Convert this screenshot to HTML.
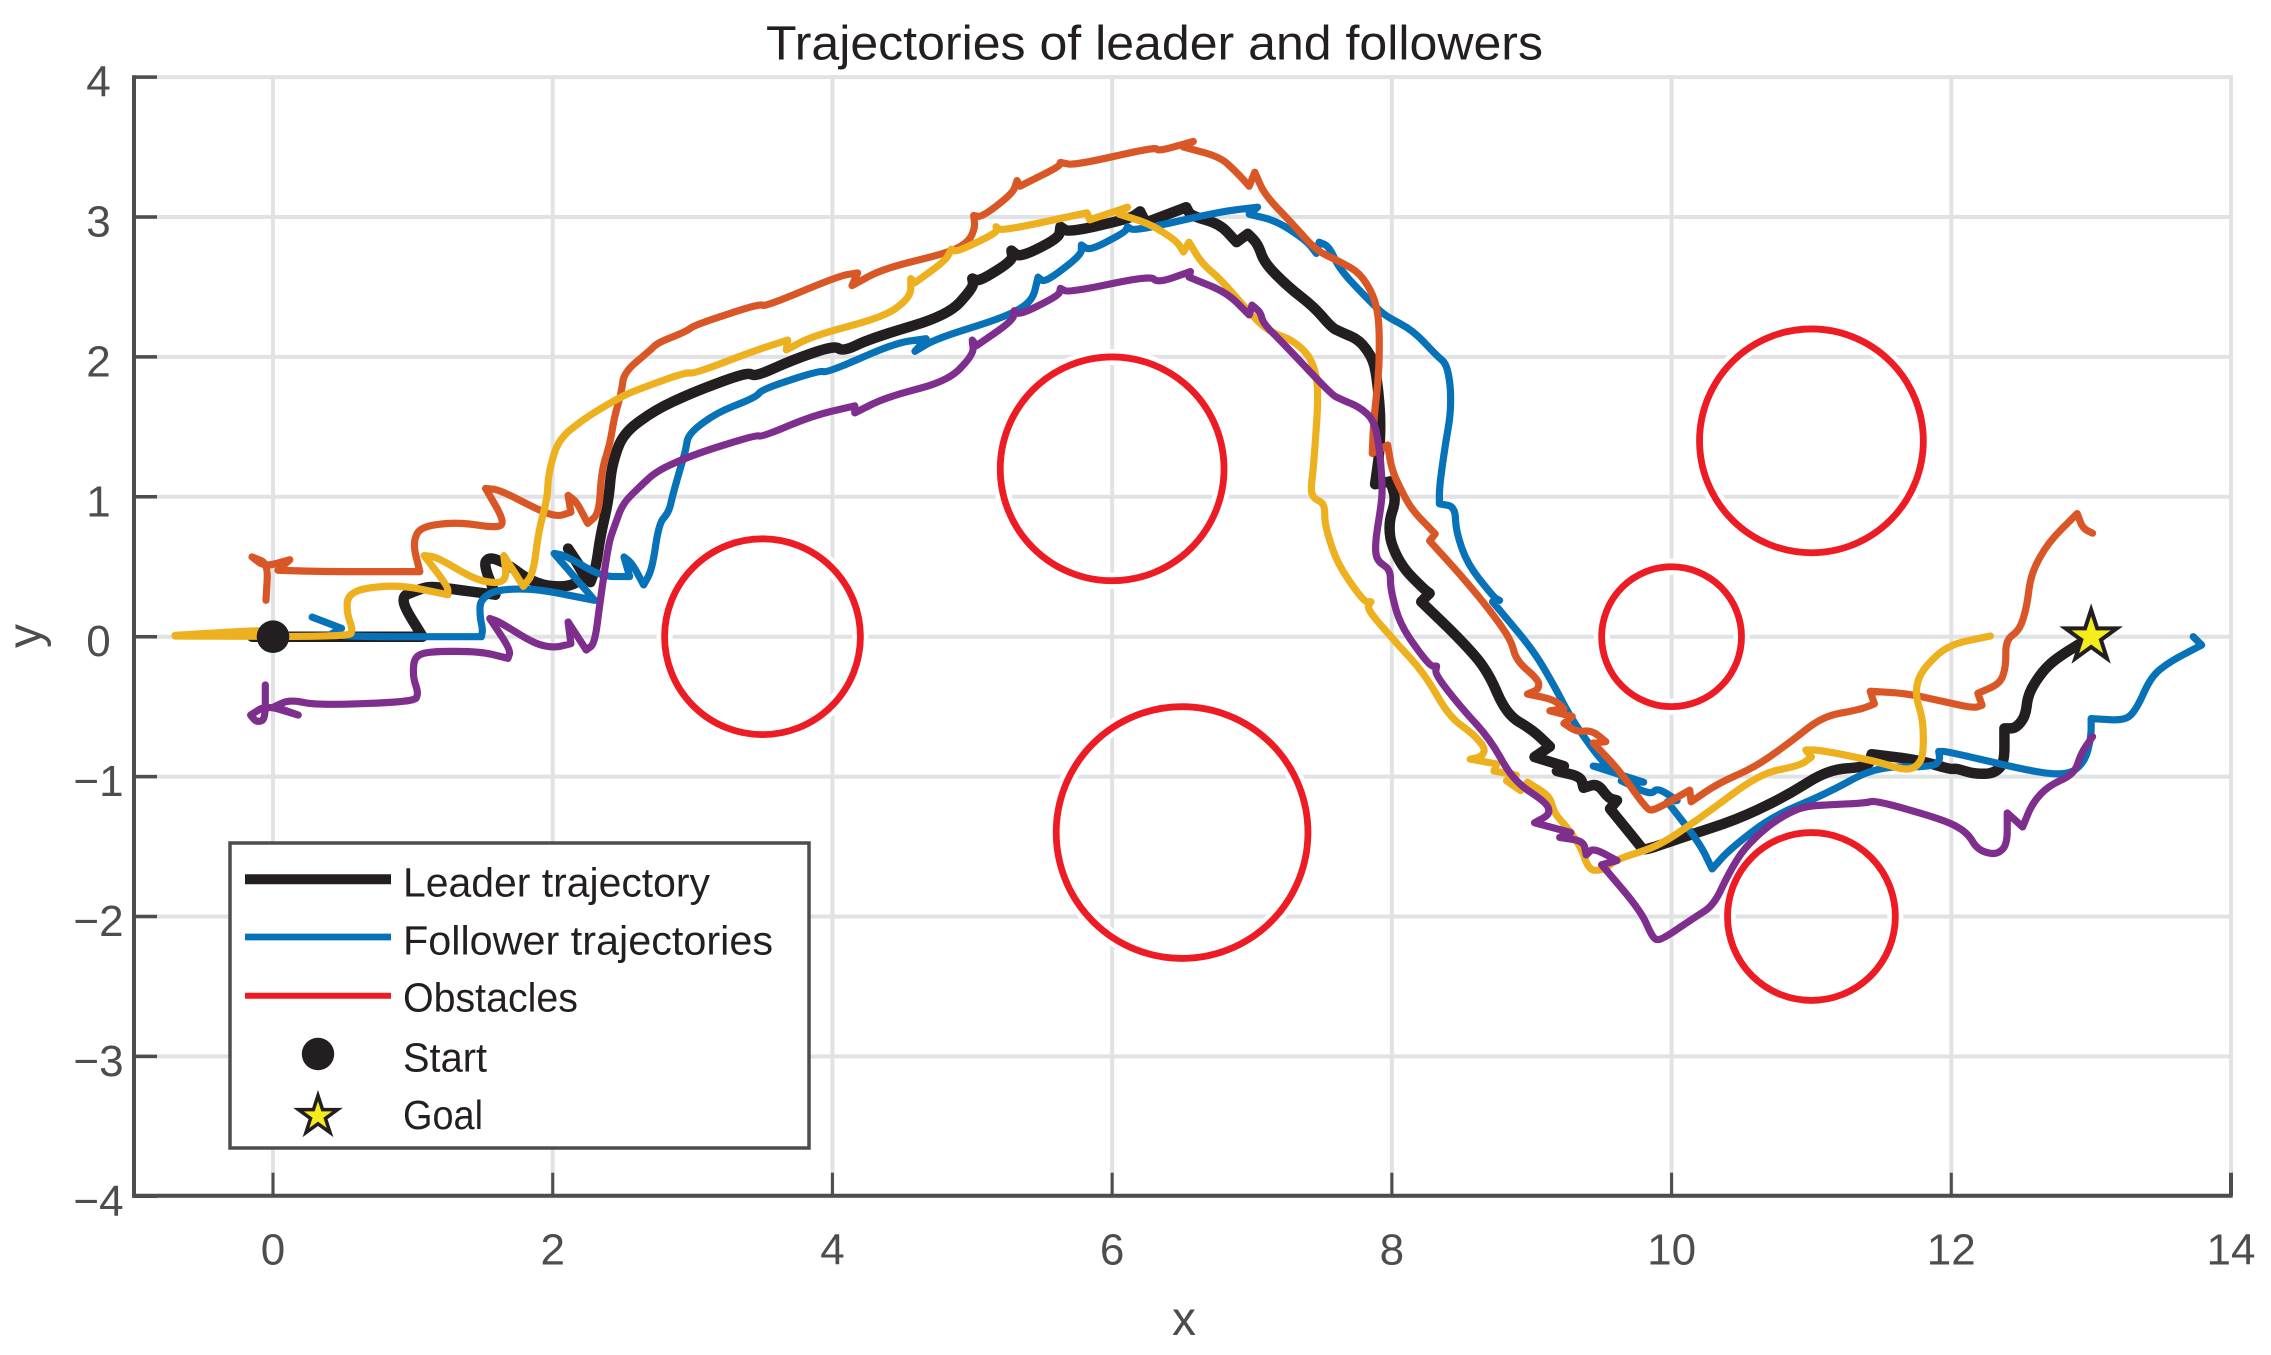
<!DOCTYPE html>
<html lang="en">
<head>
<meta charset="utf-8">
<title>Trajectories of leader and followers</title>
<style>
html,body{margin:0;padding:0;background:#fff;}
svg{display:block;font-family:"Liberation Sans",sans-serif;}
</style>
</head>
<body>
<svg id="chart" width="2271" height="1355" viewBox="0 0 2271 1355" xmlns="http://www.w3.org/2000/svg">
  <rect x="0" y="0" width="2271" height="1355" fill="#ffffff"/>
  <g id="grid"></g>
  <g id="halos"></g>
  <g id="series"></g>
  <g id="obstacles"></g>
  <g id="markers"></g>
  <g id="axes"></g>
  <text x="766" y="59.5" font-size="48" fill="#231f20" textLength="777" lengthAdjust="spacingAndGlyphs">Trajectories of leader and followers</text>
  <text x="1184" y="1335" font-size="48" fill="#4d4d4f" text-anchor="middle">x</text>
  <text transform="translate(41,636) rotate(-90)" font-size="48" fill="#4d4d4f" text-anchor="middle">y</text>
  <g>
    <rect x="230" y="843" width="579" height="305" fill="#ffffff" stroke="#4d4d4f" stroke-width="3.5"/>
    <line x1="245" y1="879.3" x2="391" y2="879.3" stroke="#231f20" stroke-width="10"/>
    <line x1="245" y1="937" x2="391" y2="937" stroke="#0772b8" stroke-width="6.7"/>
    <line x1="245" y1="995.7" x2="391" y2="995.7" stroke="#ed1c24" stroke-width="6"/>
    <circle cx="318" cy="1054" r="16.2" fill="#231f20"/>
    <polygon id="legendStar" fill="#f4ec1b" stroke="#231f20" stroke-width="3.5" stroke-miterlimit="10"/>
    <text x="403" y="896.7" font-size="41" fill="#231f20" textLength="307" lengthAdjust="spacingAndGlyphs">Leader trajectory</text>
    <text x="403" y="954.3" font-size="41" fill="#231f20" textLength="370" lengthAdjust="spacingAndGlyphs">Follower trajectories</text>
    <text x="403" y="1011.7" font-size="41" fill="#231f20" textLength="175" lengthAdjust="spacingAndGlyphs">Obstacles</text>
    <text x="403" y="1071.7" font-size="41" fill="#231f20" textLength="84" lengthAdjust="spacingAndGlyphs">Start</text>
    <text x="403" y="1129" font-size="41" fill="#231f20" textLength="80" lengthAdjust="spacingAndGlyphs">Goal</text>
  </g>
</svg>
<script>
var xTicks = [0, 2, 4, 6, 8, 10, 12, 14];
var yTicks = [4, 3, 2, 1, 0, -1, -2, -3, -4];

var obstacleX = [3.5, 6, 6.5, 10, 11, 11];
var obstacleY = [0, 1.2, -1.4, 0, 1.4, -2];
var obstacleR = [0.7, 0.8, 0.9, 0.5, 0.8, 0.6];

var startPoint = [0, 0];
var goalPoint = [13, 0];

var leaderPath = [[-0.15,0],[1.07,0],[0.94,0.21],[0.93,0.29],[1,0.32],[1.11,0.36],[1.25,0.345],[1.59,0.3],[1.505,0.52],[1.55,0.57],[1.675,0.52],[1.815,0.415],[1.96,0.36],[2.13,0.36],[2.23,0.43],[2.11,0.63],[2.27,0.39],[2.31,0.5],[2.34,0.715],[2.4,0.98],[2.42,1.215],[2.5,1.45],[2.73,1.62],[3.01,1.75],[3.39,1.89],[3.45,1.86],[3.72,1.98],[4.01,2.08],[4.08,2.04],[4.27,2.13],[4.83,2.3],[5.01,2.5],[5,2.56],[5.05,2.54],[5.29,2.69],[5.28,2.76],[5.34,2.71],[5.62,2.85],[5.63,2.93],[5.69,2.89],[6.13,2.99],[6.2,3.04],[6.24,2.96],[6.53,3.07],[6.56,3.01],[6.77,2.95],[6.89,2.82],[6.97,2.88],[7.04,2.81],[7.09,2.67],[7.26,2.5],[7.44,2.36],[7.57,2.21],[7.63,2.18],[7.77,2.12],[7.87,1.98],[7.9,1.79],[7.92,1.55],[7.91,1.3],[7.88,1.09],[7.99,1.11],[8.03,0.98],[7.98,0.825],[7.99,0.67],[8.08,0.49],[8.23,0.34],[8.27,0.31],[8.21,0.25],[8.49,-0.02],[8.68,-0.235],[8.82,-0.555],[9.01,-0.67],[9.13,-0.785],[9.02,-0.86],[9.23,-0.925],[9.18,-0.96],[9.35,-1],[9.37,-1.08],[9.47,-1.05],[9.55,-1.155],[9.61,-1.17],[9.56,-1.23],[9.78,-1.5],[9.8,-1.53],[10.06,-1.44],[10.46,-1.31],[10.81,-1.145],[11.12,-0.95],[11.41,-0.93],[11.43,-0.84],[11.76,-0.88],[12,-0.95],[12.03,-0.94],[12.16,-0.98],[12.3,-0.98],[12.38,-0.905],[12.38,-0.655],[12.46,-0.655],[12.53,-0.57],[12.55,-0.405],[12.65,-0.25],[12.75,-0.155],[13,0]];

var followerBlue = [[0.28,0.14],[0.49,0.06],[0.42,0.02],[0.56,0],[1.49,0],[1.5,0.05],[1.48,0.14],[1.48,0.26],[1.59,0.335],[1.87,0.345],[2.3,0.26],[2.01,0.595],[2.09,0.58],[2.35,0.43],[2.55,0.43],[2.51,0.57],[2.57,0.52],[2.65,0.37],[2.71,0.48],[2.76,0.81],[2.83,0.89],[2.86,1.02],[2.92,1.23],[2.95,1.33],[2.97,1.45],[3.17,1.6],[3.45,1.71],[3.5,1.77],[3.9,1.9],[3.97,1.89],[4.45,2.1],[4.67,2.13],[4.59,2.04],[4.74,2.13],[5.25,2.29],[5.43,2.4],[5.47,2.57],[5.52,2.53],[5.78,2.73],[5.78,2.8],[5.84,2.76],[6.09,2.89],[6.11,2.93],[6.16,2.9],[6.78,3.04],[7.04,3.07],[6.98,3.02],[7.18,2.97],[7.39,2.83],[7.46,2.74],[7.48,2.82],[7.55,2.79],[7.63,2.62],[7.87,2.37],[7.96,2.29],[8.15,2.19],[8.32,2.01],[8.39,1.95],[8.42,1.79],[8.42,1.59],[8.38,1.36],[8.34,1.07],[8.34,0.95],[8.45,0.93],[8.46,0.75],[8.54,0.52],[8.73,0.28],[8.77,0.26],[8.72,0.25],[9.01,-0.095],[9.16,-0.35],[9.28,-0.58],[9.44,-0.81],[9.55,-0.94],[9.44,-0.925],[9.8,-1.04],[9.64,-1.03],[9.85,-1.13],[9.9,-1.08],[10.04,-1.17],[9.97,-1.18],[10.2,-1.475],[10.29,-1.66],[10.41,-1.525],[10.71,-1.29],[11.11,-1.12],[11.46,-0.93],[11.87,-0.93],[11.92,-0.88],[11.91,-0.82],[11.97,-0.82],[12.65,-0.98],[12.86,-0.98],[12.96,-0.88],[13,-0.715],[13,-0.585],[13.24,-0.6],[13.32,-0.525],[13.43,-0.285],[13.56,-0.18],[13.79,-0.06],[13.73,0],[13.78,-0.05]];

var followerOrange = [[-0.05,0.26],[-0.035,0.525],[-0.15,0.57],[-0.06,0.5],[0.12,0.55],[0.035,0.475],[0.35,0.465],[1.05,0.465],[1,0.665],[1.05,0.785],[1.31,0.82],[1.62,0.775],[1.65,0.835],[1.52,1.06],[1.62,1.05],[1.93,0.89],[2.04,0.86],[2.13,0.89],[2.11,1.01],[2.17,0.965],[2.25,0.81],[2.33,0.88],[2.35,1.19],[2.41,1.38],[2.44,1.57],[2.49,1.74],[2.51,1.89],[2.7,2.05],[2.75,2.1],[2.95,2.18],[3.02,2.23],[3.48,2.38],[3.52,2.36],[4.05,2.58],[4.18,2.6],[4.14,2.51],[4.36,2.63],[4.85,2.75],[4.98,2.83],[5.02,2.93],[5.01,3.01],[5.07,3],[5.29,3.17],[5.32,3.26],[5.34,3.22],[5.62,3.36],[5.63,3.39],[5.73,3.37],[6.31,3.5],[6.33,3.47],[6.58,3.54],[6.51,3.5],[6.77,3.43],[6.89,3.32],[6.98,3.22],[7.02,3.32],[7.09,3.16],[7.29,2.95],[7.46,2.76],[7.63,2.68],[7.77,2.6],[7.87,2.44],[7.91,2.26],[7.91,1.9],[7.87,1.55],[7.86,1.31],[7.97,1.37],[8,1.19],[8.08,1.02],[8.15,0.9],[8.31,0.735],[8.27,0.685],[8.51,0.42],[8.7,0.19],[8.85,-0.02],[8.89,-0.17],[9.05,-0.31],[9.05,-0.375],[8.97,-0.41],[9.16,-0.45],[9.23,-0.515],[9.13,-0.53],[9.29,-0.57],[9.23,-0.62],[9.32,-0.68],[9.43,-0.67],[9.53,-0.75],[9.44,-0.76],[9.63,-0.96],[9.82,-1.23],[9.87,-1.245],[10.13,-1.097],[10.14,-1.18],[10.33,-1.05],[10.6,-0.93],[10.84,-0.76],[11.08,-0.57],[11.35,-0.52],[11.45,-0.48],[11.42,-0.39],[11.68,-0.405],[11.95,-0.465],[12.16,-0.51],[12.22,-0.49],[12.19,-0.405],[12.35,-0.335],[12.39,-0.215],[12.39,-0.025],[12.49,0.05],[12.54,0.215],[12.57,0.45],[12.69,0.67],[12.9,0.88],[12.94,0.775],[13.01,0.74]];

var followerYellow = [[-0.7,0.01],[-0.1,0.045],[0,0.04],[-0.1,0.005],[-0.7,0.005],[0.545,0],[0.57,0.05],[0.53,0.165],[0.53,0.285],[0.63,0.345],[0.91,0.37],[1.25,0.3],[1.25,0.36],[1.08,0.58],[1.17,0.57],[1.45,0.405],[1.62,0.38],[1.67,0.43],[1.65,0.58],[1.79,0.36],[1.86,0.45],[1.9,0.76],[1.96,0.98],[1.97,1.17],[2.04,1.41],[2.24,1.57],[2.48,1.71],[2.59,1.76],[2.95,1.89],[3.01,1.88],[3.46,2.05],[3.68,2.12],[3.67,2.05],[3.86,2.15],[4.38,2.29],[4.56,2.43],[4.56,2.56],[4.59,2.53],[4.81,2.69],[4.85,2.77],[4.89,2.75],[5.18,2.89],[5.17,2.93],[5.21,2.9],[5.82,3.03],[5.84,2.98],[6.11,3.07],[6.05,3.02],[6.27,2.95],[6.46,2.83],[6.51,2.75],[6.55,2.82],[6.64,2.67],[6.78,2.55],[7.04,2.25],[7.15,2.17],[7.29,2.12],[7.42,2],[7.48,1.79],[7.44,1.21],[7.42,1.05],[7.44,0.99],[7.52,0.95],[7.52,0.8],[7.61,0.52],[7.8,0.25],[7.85,0.25],[7.82,0.2],[8.01,-0.02],[8.23,-0.26],[8.41,-0.57],[8.58,-0.695],[8.67,-0.8],[8.64,-0.86],[8.56,-0.875],[8.75,-0.91],[8.73,-0.96],[8.89,-0.99],[8.82,-1.03],[8.92,-1.1],[8.97,-1.04],[9.13,-1.14],[9.16,-1.26],[9.25,-1.36],[9.35,-1.5],[9.41,-1.67],[9.51,-1.67],[9.61,-1.59],[9.9,-1.5],[10.2,-1.3],[10.63,-0.98],[10.92,-0.92],[11,-0.86],[10.96,-0.81],[11.06,-0.81],[11.46,-0.89],[11.65,-0.95],[11.74,-0.94],[11.8,-0.86],[11.8,-0.6],[11.74,-0.405],[11.78,-0.25],[11.97,-0.06],[12.28,0.005]];

var followerPurple = [[-0.055,-0.345],[-0.055,-0.595],[-0.12,-0.61],[-0.16,-0.56],[-0.05,-0.49],[0.18,-0.56],[0.01,-0.5],[0.12,-0.45],[0.32,-0.49],[1.01,-0.465],[1.04,-0.405],[1,-0.285],[1.01,-0.145],[1.11,-0.105],[1.48,-0.105],[1.68,-0.155],[1.7,-0.095],[1.55,0.13],[1.62,0.105],[1.87,-0.05],[2.01,-0.08],[2.13,-0.05],[2.11,0.105],[2.24,-0.095],[2.3,-0.05],[2.34,0.26],[2.4,0.67],[2.44,0.785],[2.5,0.95],[2.62,1.07],[2.75,1.19],[3.03,1.31],[3.45,1.44],[3.5,1.43],[3.86,1.58],[4.16,1.65],[4.16,1.6],[4.38,1.71],[4.83,1.83],[5.01,2.02],[5,2.12],[5.03,2.08],[5.29,2.26],[5.3,2.33],[5.34,2.3],[5.62,2.44],[5.63,2.49],[5.69,2.46],[6.27,2.58],[6.33,2.53],[6.56,2.61],[6.55,2.57],[6.82,2.46],[6.98,2.3],[7,2.37],[7.06,2.32],[7.08,2.24],[7.22,2.1],[7.57,1.73],[7.63,1.7],[7.77,1.64],[7.87,1.55],[7.91,1.36],[7.93,1.12],[7.93,0.98],[7.88,0.67],[7.89,0.545],[7.99,0.48],[7.99,0.34],[8.06,0.08],[8.27,-0.21],[8.32,-0.21],[8.31,-0.27],[8.49,-0.5],[8.7,-0.73],[8.87,-1.03],[9.11,-1.19],[9.13,-1.27],[9.02,-1.33],[9.28,-1.4],[9.2,-1.435],[9.37,-1.46],[9.39,-1.56],[9.44,-1.51],[9.61,-1.6],[9.5,-1.63],[9.78,-1.96],[9.87,-2.165],[9.93,-2.165],[10.16,-2.01],[10.3,-1.92],[10.41,-1.69],[10.52,-1.51],[10.71,-1.335],[10.92,-1.215],[11.14,-1.2],[11.38,-1.19],[11.46,-1.17],[11.95,-1.31],[12.11,-1.395],[12.19,-1.525],[12.32,-1.56],[12.4,-1.49],[12.4,-1.26],[12.51,-1.36],[12.58,-1.19],[12.69,-1.07],[12.88,-0.98],[12.93,-0.83],[13.01,-0.715]];

var SVGNS = 'http://www.w3.org/2000/svg';
var xDomainMin = -1, xDomainMax = 14, yDomainMin = -4, yDomainMax = 4;
var plotLeft = 133.15, plotRight = 2231, plotTop = 77.1, plotBottom = 1196.3;
function px(x) { return plotLeft + (x - xDomainMin) / (xDomainMax - xDomainMin) * (plotRight - plotLeft); }
function py(y) { return plotBottom - (y - yDomainMin) / (yDomainMax - yDomainMin) * (plotBottom - plotTop); }
var unitPx = (plotRight - plotLeft) / (xDomainMax - xDomainMin);

function mk(parentId, tag, props) {
  var el = document.createElementNS(SVGNS, tag);
  for (var k in props) { el.setAttribute(k, props[k]); }
  document.getElementById(parentId).appendChild(el);
  return el;
}
function starPoints(cx, cy, R) {
  var pts = [];
  for (var i = 0; i < 10; i++) {
    var r = i % 2 ? R * 0.382 : R;
    var a = -Math.PI / 2 + i * Math.PI / 5;
    pts.push((cx + r * Math.cos(a)).toFixed(2) + ',' + (cy + r * Math.sin(a)).toFixed(2));
  }
  return pts.join(' ');
}
// Rounds gentle bends with a quadratic curve; sharp hooks keep their corner.
function pathFrom(points) {
  var pts = points.map(function (p) { return [px(p[0]), py(p[1])]; });
  var d = 'M' + pts[0][0].toFixed(2) + ' ' + pts[0][1].toFixed(2);
  for (var i = 1; i < pts.length - 1; i++) {
    var a = pts[i - 1], b = pts[i], c = pts[i + 1];
    var ux = b[0] - a[0], uy = b[1] - a[1], vx = c[0] - b[0], vy = c[1] - b[1];
    var cosT = (ux * vx + uy * vy) / ((Math.hypot(ux, uy) * Math.hypot(vx, vy)) || 1);
    if (cosT > 0.2) {
      var s = [b[0] - 0.45 * ux, b[1] - 0.45 * uy];
      var e = [b[0] + 0.45 * vx, b[1] + 0.45 * vy];
      d += 'L' + s[0].toFixed(2) + ' ' + s[1].toFixed(2) + 'Q' + b[0].toFixed(2) + ' ' + b[1].toFixed(2) + ' ' + e[0].toFixed(2) + ' ' + e[1].toFixed(2);
    } else {
      d += 'L' + b[0].toFixed(2) + ' ' + b[1].toFixed(2);
    }
  }
  var last = pts[pts.length - 1];
  return d + 'L' + last[0].toFixed(2) + ' ' + last[1].toFixed(2);
}

var gridColor = '#e1e2e4', axisColor = '#4d4d4f';

yTicks.forEach(function (t) {
  var g = mk('grid', 'line', {x1: px(xDomainMin), x2: plotRight, y1: py(t), y2: py(t), stroke: gridColor, 'stroke-width': 4});
  
  
  var tick = mk('axes', 'line', {x1: 134, x2: 157, y1: py(t), y2: py(t), stroke: axisColor, 'stroke-width': 3.5});
  
  
  var lab = mk('axes', 'text', {x: 98.5, y: py(t) + 19.5, 'font-size': 44, fill: axisColor, 'text-anchor': 'middle'});
  
  
  lab.textContent = t < 0 ? '\u2212' + Math.abs(t) : String(t);
});
xTicks.forEach(function (t) {
  var g = mk('grid', 'line', {x1: px(t), x2: px(t), y1: plotTop - 2, y2: plotBottom, stroke: gridColor, 'stroke-width': 4});
  
  
  var tick = mk('axes', 'line', {x1: px(t), x2: px(t), y1: 1172.7, y2: 1195.7, stroke: axisColor, 'stroke-width': t === 14 ? 4 : 3});
  
  
  var lab = mk('axes', 'text', {x: px(t), y: 1264.5, 'font-size': 44, fill: axisColor, 'text-anchor': 'middle'});
  
  
  lab.textContent = String(t);
});

var yAxis = mk('axes', 'line', {x1: 134, x2: 134, y1: 75.3, y2: 1197.7, stroke: axisColor, 'stroke-width': 4});


var xAxis = mk('axes', 'line', {x1: 132, x2: 2232.7, y1: 1195.7, y2: 1195.7, stroke: axisColor, 'stroke-width': 4});



obstacleX.forEach(function (ox, i) {
  var halo = mk('halos', 'circle', {cx: px(ox), cy: py(obstacleY[i]), r: obstacleR[i] * unitPx, fill: 'none', stroke: '#ffffff', 'stroke-width': 16});
  
  
  var c = mk('obstacles', 'circle', {cx: px(ox), cy: py(obstacleY[i]), r: obstacleR[i] * unitPx, fill: 'none', stroke: '#ed1c24', 'stroke-width': 6.8});
  
  
});

var lineBase = {fill: 'none', 'stroke-linejoin': 'round', 'stroke-linecap': 'round'};
function seriesProps(points, color, width) {
  return {d: pathFrom(points), stroke: color, 'stroke-width': width, fill: lineBase.fill, 'stroke-linejoin': lineBase['stroke-linejoin'], 'stroke-linecap': lineBase['stroke-linecap']};
}
var leaderLine = mk('series', 'path', seriesProps(leaderPath, '#231f20', 10.5));


var blueLine = mk('series', 'path', seriesProps(followerBlue, '#0772b8', 7.2));


var orangeLine = mk('series', 'path', seriesProps(followerOrange, '#d95727', 7.2));


var yellowLine = mk('series', 'path', seriesProps(followerYellow, '#edb120', 7.2));


var purpleLine = mk('series', 'path', seriesProps(followerPurple, '#7e2f8e', 7.2));



var startMark = mk('markers', 'circle', {cx: px(startPoint[0]), cy: py(startPoint[1]), r: 16.3, fill: '#231f20'});


var goalMark = mk('markers', 'polygon', {points: starPoints(px(goalPoint[0]), py(goalPoint[1]), 27), fill: '#f4ec1b', stroke: '#231f20', 'stroke-width': 4, 'stroke-miterlimit': 10});



document.getElementById('legendStar').setAttribute('points', starPoints(318, 1116, 20.5));
</script>
</body>
</html>
